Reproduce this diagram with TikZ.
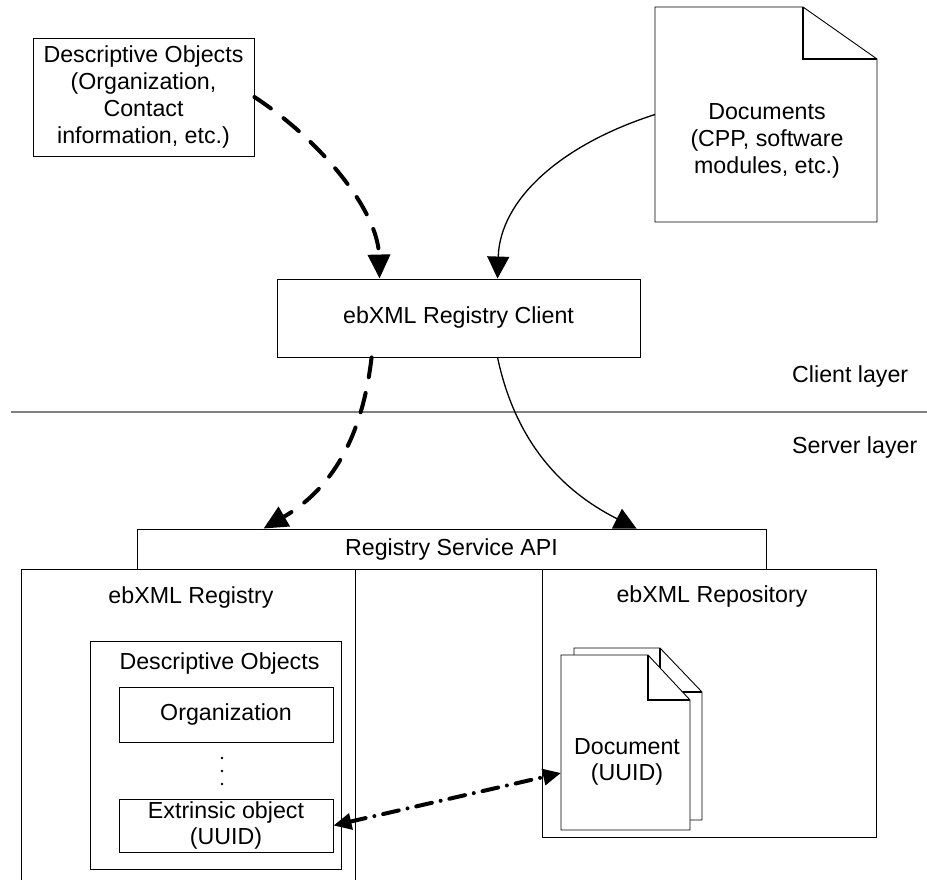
\documentclass[tikz,border=0pt]{standalone}
\usepackage{fontspec}
\setmainfont{Liberation Sans}
\usetikzlibrary{arrows.meta,calc}

\tikzset{
  box/.style={draw=black, line width=0.9pt, fill=white, inner sep=0pt, align=center},
  frame/.style={inner sep=0pt, outer sep=0pt},
  txt/.style={inner sep=0pt, align=center},
  page/.style={draw=black, line width=0.9pt, fill=white, line join=miter},
  fold/.style={draw=black, line width=1.3pt},
  solidflow/.style={line width=1.3pt, -{Triangle[length=22pt,width=22pt]}},
  dashflow/.style={line width=4pt, line cap=round, dash pattern=on 20pt off 16pt,
    -{Triangle[length=24pt,width=22pt]}},
  linkflow/.style={line width=4pt, line cap=round, dash pattern=on 16pt off 9pt on 0pt off 9pt,
    {Triangle[length=18pt,width=16pt]}-{Triangle[length=18pt,width=16pt]}},
  separator/.style={draw=black!50, line width=1.2pt},
  elldot/.style={fill=black, circle, inner sep=0pt, minimum size=2.6pt},
}

\begin{document}
\begin{tikzpicture}[x=1pt, y=-1pt, font=\fontsize{23.2}{26.7}\selectfont]
\useasboundingbox (0,0) rectangle (927,880);
\clip (0,0) rectangle (927,880);
\fill[white] (0,0) rectangle (927,880);

% ---- client side -------------------------------------------------------
\node[box, minimum width=221pt, minimum height=118pt] (desc) at (143.5,97)
  {Descriptive Objects\\(Organization,\\Contact\\information, etc.)};

% document sheet with a folded corner
\node[frame, minimum width=222pt, minimum height=215pt] (docs) at (766,114.5) {};
\draw[page] (docs.north west) -- ([xshift=-74pt]docs.north east)
  -- ([yshift=-52pt]docs.north east) -- (docs.south east) -- (docs.south west) -- cycle;
\draw[fold] ([xshift=-74pt]docs.north east) -- ([xshift=-74pt,yshift=-52pt]docs.north east)
  -- ([yshift=-52pt]docs.north east);
\node[txt] (docslabel) at (767,141) {Documents\\(CPP, software\\modules, etc.)};

\node[box, minimum width=363pt, minimum height=78pt] (client) at (458.5,318)
  {ebXML Registry Client};

% ---- layer separator ----------------------------------------------------
\coordinate (sepL) at (11,412);
\coordinate (sepR) at (927,412);
\draw[separator] (sepL) -- (sepR);
\node[txt, anchor=west] (clientlayer) at (792,377) {Client layer};
\node[txt, anchor=west] (serverlayer) at (792,447) {Server layer};

% ---- server side --------------------------------------------------------
\node[box, minimum width=334pt, minimum height=331pt] (registry) at (188,734.5) {};
\node[txt] (registrytitle) at (191,597) {ebXML Registry};

\node[box, minimum width=334pt, minimum height=268pt] (repo) at (709,703) {};
\node[txt] (repotitle) at (712,596) {ebXML Repository};

\node[box, minimum width=629pt, minimum height=40pt] (api) at (451.5,549)
  {Registry Service API};

% descriptive objects held by the registry
\node[box, minimum width=251pt, minimum height=228pt] (descin) at (215.5,755) {};
\node[txt] (desctitle) at (219.5,663) {Descriptive Objects};
\node[box, minimum width=214pt, minimum height=55pt] (org) at (226,714.5) {Organization};
\node[elldot] (dotA) at (222,758) {};
\node[elldot] (dotB) at (222,771) {};
\node[elldot] (dotC) at (222,784) {};
\node[box, minimum width=214pt, minimum height=53pt] (extr) at (226,825.5)
  {Extrinsic object\\(UUID)};

% stacked document pages in the repository
\node[frame, minimum width=128pt, minimum height=172pt] (docback) at (638,734) {};
\draw[page] (docback.north west) -- ([xshift=-42pt]docback.north east)
  -- ([yshift=-44pt]docback.north east) -- (docback.south east)
  -- (docback.south west) -- cycle;
\draw[fold] ([xshift=-42pt]docback.north east) -- ([xshift=-42pt,yshift=-44pt]docback.north east)
  -- ([yshift=-44pt]docback.north east);

\node[frame, minimum width=129pt, minimum height=175pt] (docfront) at (625.5,742.5) {};
\draw[page] (docfront.north west) -- ([xshift=-42pt]docfront.north east)
  -- ([yshift=-45pt]docfront.north east) -- (docfront.south east)
  -- (docfront.south west) -- cycle;
\draw[fold] ([xshift=-42pt]docfront.north east) -- ([xshift=-42pt,yshift=-45pt]docfront.north east)
  -- ([yshift=-45pt]docfront.north east);
\node[txt] (doclabel) at (627,762) {Document\\(UUID)};

% ---- flows ---------------------------------------------------------------
\draw[dashflow] (desc.east) .. controls (320,140) and (378,210) .. ([xshift=103pt]client.north west);
\draw[solidflow] (docs.west) .. controls (560,145) and (500,200) .. ([xshift=221pt]client.north west);
\draw[dashflow] ([xshift=95pt]client.south west) .. controls (362,440) and (330,490)
  .. ([xshift=127pt]api.north west);
\draw[solidflow] ([xshift=221pt]client.south west) .. controls (515,440) and (560,490)
  .. ([xshift=500pt]api.north west);
\draw[linkflow] (extr.east) -- ([yshift=-30.5pt]docfront.west);
\end{tikzpicture}
\end{document}
